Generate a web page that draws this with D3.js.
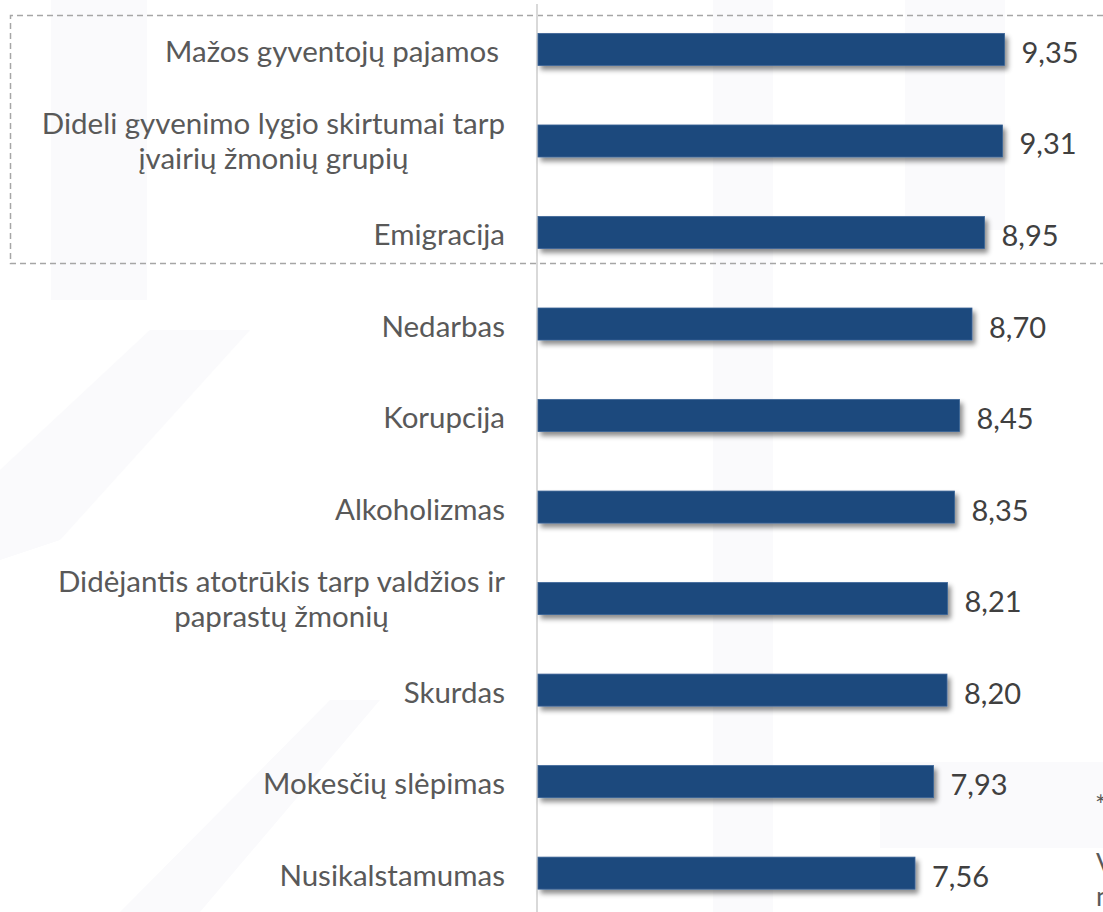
<!DOCTYPE html>
<html>
<head>
<meta charset="utf-8">
<script src="https://cdn.jsdelivr.net/npm/d3@7"></script>
<style>
  body { margin: 0; background: #fff; }
  svg { display: block; }
</style>
</head>
<body>
<div id="chart"></div>
<script>
// duomenys
var categories = [
  'Mažos gyventojų pajamos',
  'Dideli gyvenimo lygio skirtumai tarp|įvairių žmonių grupių',
  'Emigracija',
  'Nedarbas',
  'Korupcija',
  'Alkoholizmas',
  'Didėjantis atotrūkis tarp valdžios ir|paprastų žmonių',
  'Skurdas',
  'Mokesčių slėpimas',
  'Nusikalstamumas'
];
var values = [9.35, 9.31, 8.95, 8.70, 8.45, 8.35, 8.21, 8.20, 7.93, 7.56];
var valueLabels = ['9,35', '9,31', '8,95', '8,70', '8,45', '8,35', '8,21', '8,20', '7,93', '7,56'];

var w = 1103, h = 912;
var fontFam = 'Lato, "Open Sans", sans-serif';

var svg = d3.select('#chart')
  .append('svg')
  .attr('width', w)
  .attr('height', h);

// seselis stulpeliams
var defs = svg.append('defs');
var filt = defs.append('filter')
  .attr('id', 'shadow')
  .attr('x', '-5%').attr('y', '-30%')
  .attr('width', '115%').attr('height', '190%');
filt.append('feDropShadow')
  .attr('dx', 3).attr('dy', 4)
  .attr('stdDeviation', 2.5)
  .attr('flood-color', '#000')
  .attr('flood-opacity', 0.45);

// blankus fono vandens zenklas
var wm = svg.append('g').attr('fill', '#fafafc');
wm.append('rect').attr('x', 51).attr('y', 0).attr('width', 96).attr('height', 300);
wm.append('rect').attr('x', 713).attr('y', 0).attr('width', 60).attr('height', 912);
wm.append('rect').attr('x', 905).attr('y', 0).attr('width', 100).attr('height', 230);
wm.append('path').attr('d', 'M0,470 L150,330 L250,330 L60,540 L0,560 Z');
wm.append('path').attr('d', 'M120,912 L330,700 L380,700 L200,912 Z');
wm.append('rect').attr('x', 880).attr('y', 762).attr('width', 223).attr('height', 86);

// skales
var x = d3.scaleLinear()
  .domain([0, 10])
  .range([537, 1037]);

var y = d3.scaleBand()
  .domain(categories)
  .range([6, 916.6])
  .paddingInner(0.65)
  .paddingOuter(0.3);

// punktyrinis remelis aplink tris pirmus
svg.append('path')
  .attr('d', 'M1103,15.5 L10.5,15.5 L10.5,263.5 L1103,263.5')
  .attr('fill', 'none')
  .attr('stroke', '#a6a6a6')
  .attr('stroke-width', 1.5)
  .attr('stroke-dasharray', '6,4');

// vertikali asis
svg.append('line')
  .attr('x1', x(0)).attr('x2', x(0))
  .attr('y1', 4).attr('y2', h)
  .attr('stroke', '#d9d9d9')
  .attr('stroke-width', 2);

// stulpeliai
svg.selectAll('rect.bar')
  .data(values)
  .enter()
  .append('rect')
  .attr('class', 'bar')
  .attr('x', x(0) + 1)
  .attr('y', (d, i) => y(categories[i]))
  .attr('width', (d) => x(d) - x(0) - 1)
  .attr('height', y.bandwidth())
  .attr('fill', '#1f497d')
  .attr('stroke', '#3a6396')
  .attr('stroke-width', 0.8)
  .attr('filter', 'url(#shadow)');

// reiksmiu etiketes
svg.selectAll('text.val')
  .data(values)
  .enter()
  .append('text')
  .attr('class', 'val')
  .attr('x', (d) => x(d) + 17)
  .attr('y', (d, i) => y(categories[i]) + y.bandwidth() / 2 + 2)
  .attr('dominant-baseline', 'central')
  .style('font-family', fontFam)
  .style('font-size', '29px')
  .attr('fill', '#404040')
  .text((d, i) => valueLabels[i]);

// kategoriju etiketes (centruotos bloke, blokas lygiuotas desineje)
var labelRight = 505;
categories.forEach(function(c, i) {
  var lines = c.split('|');
  var cy = y(c) + y.bandwidth() / 2;
  var g = svg.append('g');
  var texts = lines.map(function(line, j) {
    var off = (j - (lines.length - 1) / 2) * 35 + (lines.length > 1 ? -2 : 0);
    return g.append('text')
      .attr('y', cy + off + 1)
      .attr('dominant-baseline', 'central')
      .attr('text-anchor', 'middle')
      .style('font-family', fontFam)
      .style('font-size', '29.5px')
      .attr('fill', '#595959')
      .text(line);
  });
  var maxW = d3.max(texts, (t) => t.node().getComputedTextLength());
  var right = (i === 0) ? labelRight - 6 : labelRight;
  texts.forEach((t) => t.attr('x', right - maxW / 2));
});

// nukirpti tekstai desiniame krasite
svg.append('text').attr('x', 1095).attr('y', 815)
  .style('font-family', fontFam).style('font-size', '27px')
  .attr('fill', '#595959').text('*');
svg.append('text').attr('x', 1096).attr('y', 873)
  .style('font-family', fontFam).style('font-size', '27px')
  .attr('fill', '#595959').text('V');
svg.append('text').attr('x', 1096).attr('y', 906)
  .style('font-family', fontFam).style('font-size', '27px')
  .attr('fill', '#595959').text('n');
</script>
</body>
</html>
